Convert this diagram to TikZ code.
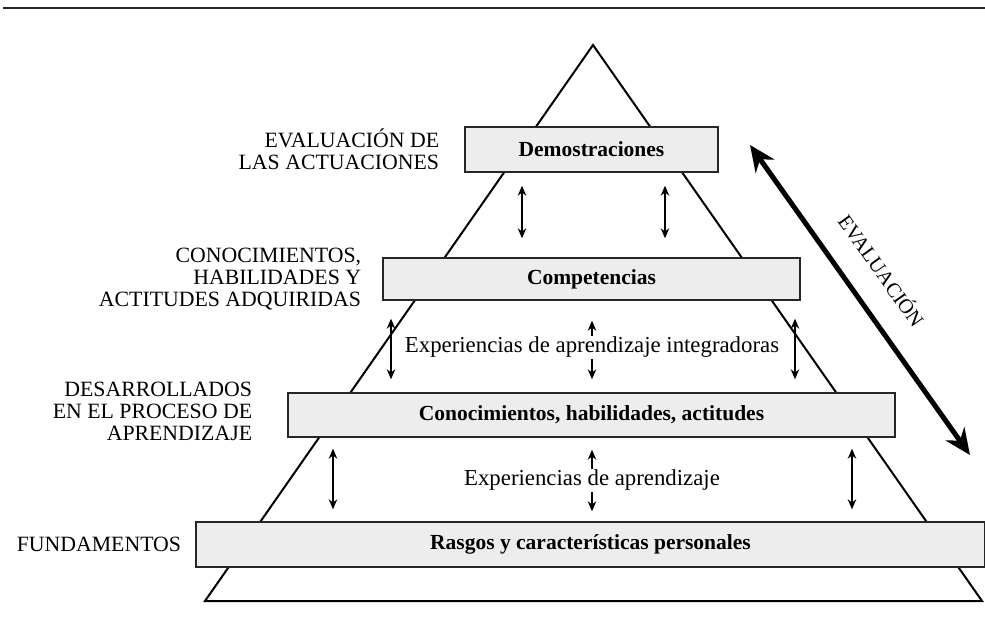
\documentclass[tikz,border=0pt]{standalone}
\usepackage{fontspec}
\setmainfont{Liberation Serif}
\usetikzlibrary{arrows.meta,positioning}
\begin{document}
\begin{tikzpicture}[x=1pt,y=-1pt,
  layer/.style={draw=black!85, line width=1.4pt, fill=black!7, inner sep=0pt,
    font=\fontsize{21.5}{24}\selectfont\bfseries},
  sidelabel/.style={align=right, inner sep=0pt, font=\fontsize{21.8}{22}\selectfont},
  midtext/.style={fill=white, inner sep=1pt, font=\fontsize{22.8}{24}\selectfont},
  dbl/.style={{Stealth[length=10pt,width=8.5pt]}-{Stealth[length=10pt,width=8.5pt]}, line width=1.5pt},
  bigarrow/.style={{Stealth[length=26pt,width=23pt]}-{Stealth[length=26pt,width=23pt]}, line width=5pt},
]
\useasboundingbox (0,0) rectangle (985,632);

% rule across the top
\coordinate (ruleL) at (3,8);
\coordinate (ruleR) at (985,8);
\draw[line width=2.5pt, black!85] (ruleL) -- (ruleR);

% pyramid outline
\coordinate (apex) at (593,45);
\coordinate (baseL) at (205,601);
\coordinate (baseR) at (982,601);
\draw[line width=2pt, line join=miter] (apex) -- (baseL) -- (baseR) -- cycle;

% layers
\node[layer, minimum width=253pt, minimum height=45pt] (b1) at (591.5,149.5) {Demostraciones};
\node[layer, minimum width=417pt, minimum height=42pt] (b2) at (591.5,279) {Competencias};
\node[layer, minimum width=607pt, minimum height=44pt] (b3) at (591.5,415) {Conocimientos, habilidades, actitudes};
\node[layer, minimum width=789pt, minimum height=45pt] (b4) at (590.5,544.5) {Rasgos y características personales};

% labels on the left
\node[sidelabel, left=25pt of b1] (l1) {EVALUACIÓN DE\\LAS ACTUACIONES};
\node[sidelabel, left=21pt of b2] (l2) {CONOCIMIENTOS,\\HABILIDADES Y\\ACTITUDES ADQUIRIDAS};
\node[sidelabel, left=35pt of b3, yshift=4pt] (l3) {DESARROLLADOS\\EN EL PROCESO DE\\APRENDIZAJE};
\node[sidelabel, left=14pt of b4] (l4) {FUNDAMENTOS};

% column positions of the small arrows
\coordinate (c1) at (522,0);
\coordinate (c2) at (665,0);
\coordinate (c3) at (391,0);
\coordinate (c4) at (592,0);
\coordinate (c5) at (795,0);
\coordinate (c6) at (333,0);
\coordinate (c7) at (852,0);

% between Demostraciones and Competencias
\draw[dbl, shorten <=13pt, shorten >=19pt] (b1.south -| c1) -- (b2.north -| c1);
\draw[dbl, shorten <=13pt, shorten >=19pt] (b1.south -| c2) -- (b2.north -| c2);

% between Competencias and Conocimientos
\draw[dbl, shorten <=18pt, shorten >=13pt] (b2.south -| c3) -- (b3.north -| c3);
\draw[dbl, shorten <=20pt, shorten >=13pt] (b2.south -| c4) -- (b3.north -| c4)
  node[midtext, pos=0.5, yshift=-1pt] (t1) {Experiencias de aprendizaje integradoras};
\draw[dbl, shorten <=18pt, shorten >=13pt] (b2.south -| c5) -- (b3.north -| c5);

% between Conocimientos and Rasgos
\draw[dbl, shorten <=11pt, shorten >=12pt] (b3.south -| c6) -- (b4.north -| c6);
\draw[dbl, shorten <=12pt, shorten >=10pt] (b3.south -| c4) -- (b4.north -| c4)
  node[midtext, pos=0.5, yshift=-1pt] (t2) {Experiencias de aprendizaje};
\draw[dbl, shorten <=11pt, shorten >=12pt] (b3.south -| c7) -- (b4.north -| c7);

% evaluation arrow
\coordinate (e1) at (750,145);
\coordinate (e2) at (970,455);
\draw[bigarrow] (e1) -- node[sloped, pos=0.47, above=24pt, inner sep=0pt,
  font=\fontsize{20.5}{24}\selectfont] (ev) {EVALUACIÓN} (e2);
\end{tikzpicture}
\end{document}
